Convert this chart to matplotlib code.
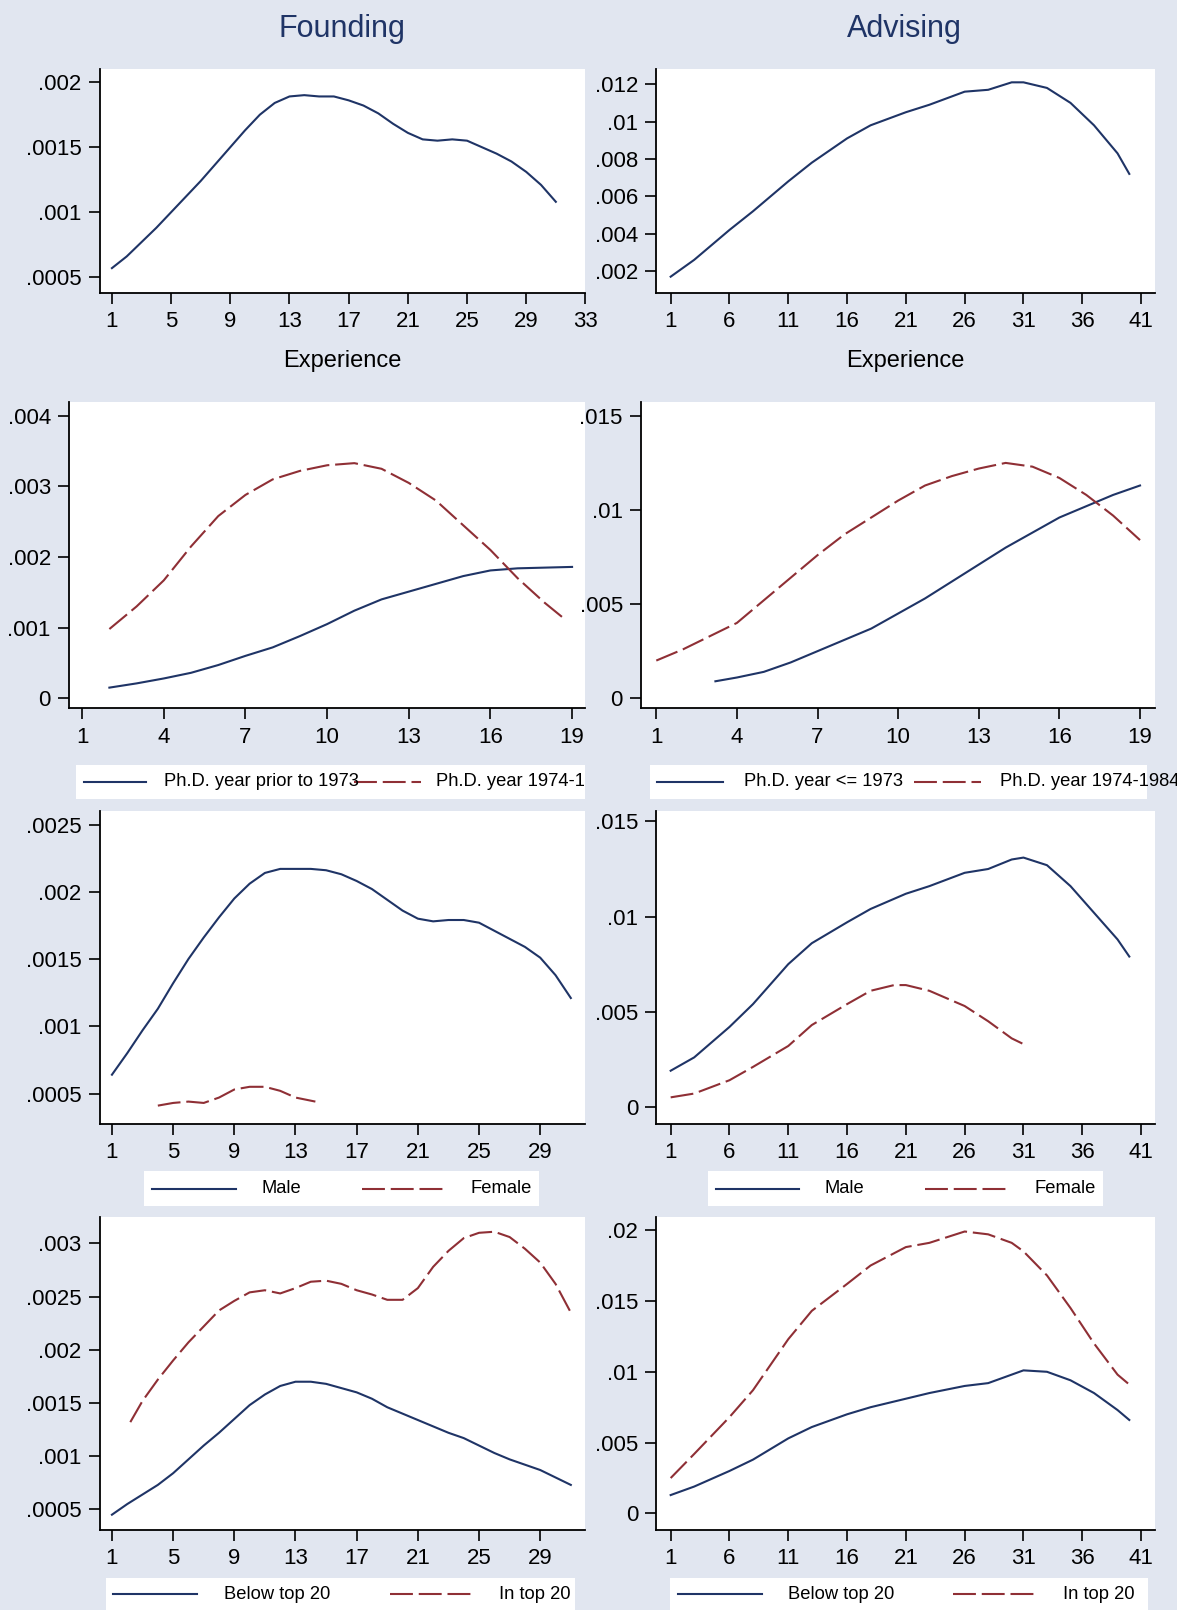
import matplotlib
matplotlib.use("Agg")
import matplotlib.pyplot as plt

plt.rcParams['font.family'] = ['Liberation Sans', 'DejaVu Sans']

BG = '#e1e6f0'
NAVY = '#1f3466'
MAROON = '#8f2f35'
W, H = 1146.0, 1568.0   # layout measured in this pixel space
DASH = (11, 2.8)

# ---- data ----
r1f_x = list(range(1, 32))
r1f_y = [.00057, .00066, .00077, .00088, .00100, .00112, .00124, .00137, .00150, .00163,
         .00175, .00184, .00189, .00190, .00189, .00189, .00186, .00182, .00176, .00168,
         .00161, .00156, .00155, .00156, .00155, .00150, .00145, .00139, .00131, .00121, .00108]

r1a_x = [1, 3, 6, 8, 11, 13, 16, 18, 21, 23, 26, 28, 30, 31, 33, 35, 37, 39, 40]
r1a_y = [.0017, .0026, .0042, .0052, .0068, .0078, .0091, .0098, .0105, .0109,
         .0116, .0117, .0121, .0121, .0118, .0110, .0098, .0083, .0072]

r2f_red_x = [2, 3, 4, 5, 6, 7, 8, 9, 10, 11, 12, 13, 14, 15, 16, 17, 18, 18.7]
r2f_red_y = [.00098, .00130, .00167, .00215, .00258, .00288, .00310, .00322, .00330, .00333,
             .00325, .00305, .00280, .00245, .00210, .00170, .00135, .00113]
r2f_blue_x = list(range(2, 20))
r2f_blue_y = [.00015, .00021, .00028, .00036, .00047, .00060, .00072, .00088, .00105, .00124,
              .00140, .00151, .00162, .00173, .00181, .00184, .00185, .00186]

r2a_red_x = list(range(1, 20))
r2a_red_y = [.0020, .0026, .0033, .0040, .0052, .0064, .0076, .0087, .0096, .0105,
             .0113, .0118, .0122, .0125, .0123, .0117, .0108, .0097, .0084]
r2a_blue_x = [3.2, 4, 5, 6, 7, 8, 9, 10, 11, 12, 13, 14, 15, 16, 17, 18, 19]
r2a_blue_y = [.0009, .0011, .0014, .0019, .0025, .0031, .0037, .0045, .0053, .0062,
              .0071, .0080, .0088, .0096, .0102, .0108, .0113]

r3f_blue_x = list(range(1, 32))
r3f_blue_y = [.00064, .00080, .00097, .00113, .00132, .00150, .00166, .00181, .00195, .00206,
              .00214, .00217, .00217, .00217, .00216, .00213, .00208, .00202, .00194, .00186,
              .00180, .00178, .00179, .00179, .00177, .00171, .00165, .00159, .00151, .00138, .00121]
r3f_red_x = [4, 5, 6, 7, 8, 9, 10, 11, 12, 13, 14.3]
r3f_red_y = [.00041, .00043, .00044, .00043, .00047, .00053, .00055, .00055, .00052, .00047, .00044]

r3a_blue_x = [1, 3, 6, 8, 11, 13, 16, 18, 21, 23, 26, 28, 30, 31, 33, 35, 37, 39, 40]
r3a_blue_y = [.0019, .0026, .0042, .0054, .0075, .0086, .0097, .0104, .0112, .0116,
              .0123, .0125, .0130, .0131, .0127, .0116, .0102, .0088, .0079]
r3a_red_x = [1, 3, 6, 8, 11, 13, 16, 18, 20, 21, 23, 26, 28, 30, 31]
r3a_red_y = [.0005, .0007, .0014, .0021, .0032, .0043, .0054, .0061, .0064, .0064,
             .0061, .0053, .0045, .0036, .0033]

r4f_red_x = [2.2] + list(range(3, 32))
r4f_red_y = [.00132, .00152, .00172, .00190, .00207, .00222, .00237, .00246, .00254, .00256,
             .00253, .00258, .00264, .00265, .00262, .00256, .00252, .00247, .00247, .00258,
             .00278, .00293, .00305, .00310, .00311, .00306, .00295, .00282, .00262, .00235]
r4f_blue_x = list(range(1, 32))
r4f_blue_y = [.00045, .00055, .00064, .00073, .00084, .00097, .00110, .00122, .00135, .00148,
              .00158, .00166, .00170, .00170, .00168, .00164, .00160, .00154, .00146, .00140,
              .00134, .00128, .00122, .00117, .00110, .00103, .00097, .00092, .00087, .00080, .00073]

r4a_red_x = [1, 3, 6, 8, 11, 13, 16, 18, 21, 23, 26, 28, 30, 31, 33, 35, 37, 39, 40]
r4a_red_y = [.0025, .0042, .0068, .0087, .0123, .0143, .0162, .0175, .0188, .0191,
             .0199, .0197, .0191, .0185, .0168, .0145, .0120, .0098, .0091]
r4a_blue_x = [1, 3, 6, 8, 11, 13, 16, 18, 21, 23, 26, 28, 30, 31, 33, 35, 37, 39, 40]
r4a_blue_y = [.0013, .0019, .0030, .0038, .0053, .0061, .0070, .0075, .0081, .0085,
              .0090, .0092, .0098, .0101, .0100, .0094, .0085, .0073, .0066]

xt_f1 = [1, 5, 9, 13, 17, 21, 25, 29, 33]
xt_f2 = [1, 4, 7, 10, 13, 16, 19]
xt_f3 = [1, 5, 9, 13, 17, 21, 25, 29]
xt_a = [1, 6, 11, 16, 21, 26, 31, 36, 41]

yt_r1f = [.0005, .001, .0015, .002]
yl_r1f = ['.0005', '.001', '.0015', '.002']
yt_r1a = [.002, .004, .006, .008, .01, .012]
yl_r1a = ['.002', '.004', '.006', '.008', '.01', '.012']
yt_r2f = [0, .001, .002, .003, .004]
yl_r2f = ['0', '.001', '.002', '.003', '.004']
yt_r2a = [0, .005, .01, .015]
yl_r2a = ['0', '.005', '.01', '.015']
yt_r3f = [.0005, .001, .0015, .002, .0025]
yl_r3f = ['.0005', '.001', '.0015', '.002', '.0025']
yt_r3a = yt_r2a
yl_r3a = yl_r2a
yt_r4f = [.0005, .001, .0015, .002, .0025, .003]
yl_r4f = ['.0005', '.001', '.0015', '.002', '.0025', '.003']
yt_r4a = [0, .005, .01, .015, .02]
yl_r4a = ['0', '.005', '.01', '.015', '.02']

fig = plt.figure(figsize=(11.77, 16.10), dpi=100, facecolor=BG)


def lim_from_px(a_px, b_px, v1, p1, v2, p2):
    # axis limits so that value v1 sits at pixel p1 and v2 at p2
    k = (v2 - v1) / (p2 - p1)
    return v1 + (a_px - p1) * k, v1 + (b_px - p1) * k


def panel(l, r, t, b, xcal, ycal, xticks, yticks, ylabels):
    ax = fig.add_axes([l / W, 1 - b / H, (r - l) / W, (b - t) / H])
    ax.set_facecolor('white')
    ax.set_xlim(*lim_from_px(l, r, *xcal))
    ax.set_ylim(*lim_from_px(b, t, *ycal))
    for s in ['top', 'right']:
        ax.spines[s].set_visible(False)
    for s in ['left', 'bottom']:
        ax.spines[s].set_linewidth(1.3)
    ax.set_xticks(xticks)
    ax.set_xticklabels([str(v) for v in xticks])
    ax.set_yticks(yticks)
    ax.set_yticklabels(ylabels)
    ax.tick_params(length=8, width=1.2, labelsize=16, pad=5)
    return ax


def legend(l, r, t, b, items, clip):
    ax = fig.add_axes([l / W, 1 - b / H, (r - l) / W, (b - t) / H])
    ax.set_facecolor('white')
    ax.set_xlim(l, r)
    ax.set_ylim(b, t)
    ax.set_xticks([])
    ax.set_yticks([])
    for s in ax.spines.values():
        s.set_visible(False)
    ym = (t + b) / 2
    for x0, x1, tx, label, color, dashed in items:
        ln, = ax.plot([x0, x1], [ym, ym], color=color, lw=1.5, clip_on=clip)
        if dashed:
            ln.set_dashes(DASH)
        ax.text(tx, ym, label, fontsize=13.2, va='center', ha='left', clip_on=clip)


def draw(ax, x, y, color, dashed=False):
    ln, = ax.plot(x, y, color=color, lw=1.5)
    if dashed:
        ln.set_dashes(DASH)


fig.text(333 / W, 1 - 28 / H, 'Founding', fontsize=22, color='#1f3466', ha='center', va='center')
fig.text(881 / W, 1 - 28 / H, 'Advising', fontsize=22, color='#1f3466', ha='center', va='center')

# row 1
ax = panel(97, 570, 67, 285, (1, 109, 29, 513), (.0005, 270, .002, 80), xt_f1, yt_r1f, yl_r1f)
draw(ax, r1f_x, r1f_y, NAVY)
ax = panel(639, 1125, 67, 285, (1, 653, 41, 1111), (.002, 264, .012, 82), xt_a, yt_r1a, yl_r1a)
draw(ax, r1a_x, r1a_y, NAVY)
fig.text(333 / W, 1 - 352 / H, 'Experience', fontsize=17, ha='center', va='center')
fig.text(881 / W, 1 - 352 / H, 'Experience', fontsize=17, ha='center', va='center')

# row 2
ax = panel(67, 570, 392, 690, (1, 80, 19, 557), (0, 680, .004, 405), xt_f2, yt_r2f, yl_r2f)
draw(ax, r2f_blue_x, r2f_blue_y, NAVY)
draw(ax, r2f_red_x, r2f_red_y, MAROON, True)
ax = panel(624, 1125, 392, 690, (1, 639, 19, 1110), (0, 680, .015, 405), xt_f2, yt_r2a, yl_r2a)
draw(ax, r2a_blue_x, r2a_blue_y, NAVY)
draw(ax, r2a_red_x, r2a_red_y, MAROON, True)
legend(74, 570, 745, 778, [(82, 142, 160, 'Ph.D. year prior to 1973', NAVY, False),
                           (345, 410, 425, 'Ph.D. year 1974-1984', MAROON, True)], True)
legend(633, 1117, 745, 778, [(640, 704, 724, 'Ph.D. year <= 1973', NAVY, False),
                             (890, 955, 974, 'Ph.D. year 1974-1984', MAROON, True)], False)

# row 3
ax = panel(97, 570, 790, 1095, (1, 109, 29, 526), (.0005, 1065, .0025, 803), xt_f3, yt_r3f, yl_r3f)
draw(ax, r3f_blue_x, r3f_blue_y, NAVY)
draw(ax, r3f_red_x, r3f_red_y, MAROON, True)
ax = panel(639, 1125, 790, 1095, (1, 653, 41, 1111), (0, 1078, .015, 800), xt_a, yt_r3a, yl_r3a)
draw(ax, r3a_blue_x, r3a_blue_y, NAVY)
draw(ax, r3a_red_x, r3a_red_y, MAROON, True)
legend(140, 525, 1140, 1175, [(148, 230, 255, 'Male', NAVY, False),
                              (352, 432, 458, 'Female', MAROON, True)], True)
legend(689, 1074, 1140, 1175, [(697, 778, 803, 'Male', NAVY, False),
                               (901, 981, 1007, 'Female', MAROON, True)], True)

# row 4
ax = panel(97, 570, 1185, 1490, (1, 109, 29, 526), (.0005, 1470, .003, 1211), xt_f3, yt_r4f, yl_r4f)
draw(ax, r4f_blue_x, r4f_blue_y, NAVY)
draw(ax, r4f_red_x, r4f_red_y, MAROON, True)
ax = panel(639, 1125, 1185, 1490, (1, 653, 41, 1111), (0, 1474, .02, 1198), xt_a, yt_r4a, yl_r4a)
draw(ax, r4a_blue_x, r4a_blue_y, NAVY)
draw(ax, r4a_red_x, r4a_red_y, MAROON, True)
legend(103, 560, 1537, 1568, [(110, 192, 218, 'Below top 20', NAVY, False),
                              (380, 460, 486, 'In top 20', MAROON, True)], True)
legend(652, 1118, 1537, 1568, [(660, 742, 767, 'Below top 20', NAVY, False),
                               (928, 1010, 1035, 'In top 20', MAROON, True)], True)

fig.savefig('out.png', dpi=100, facecolor=BG)
